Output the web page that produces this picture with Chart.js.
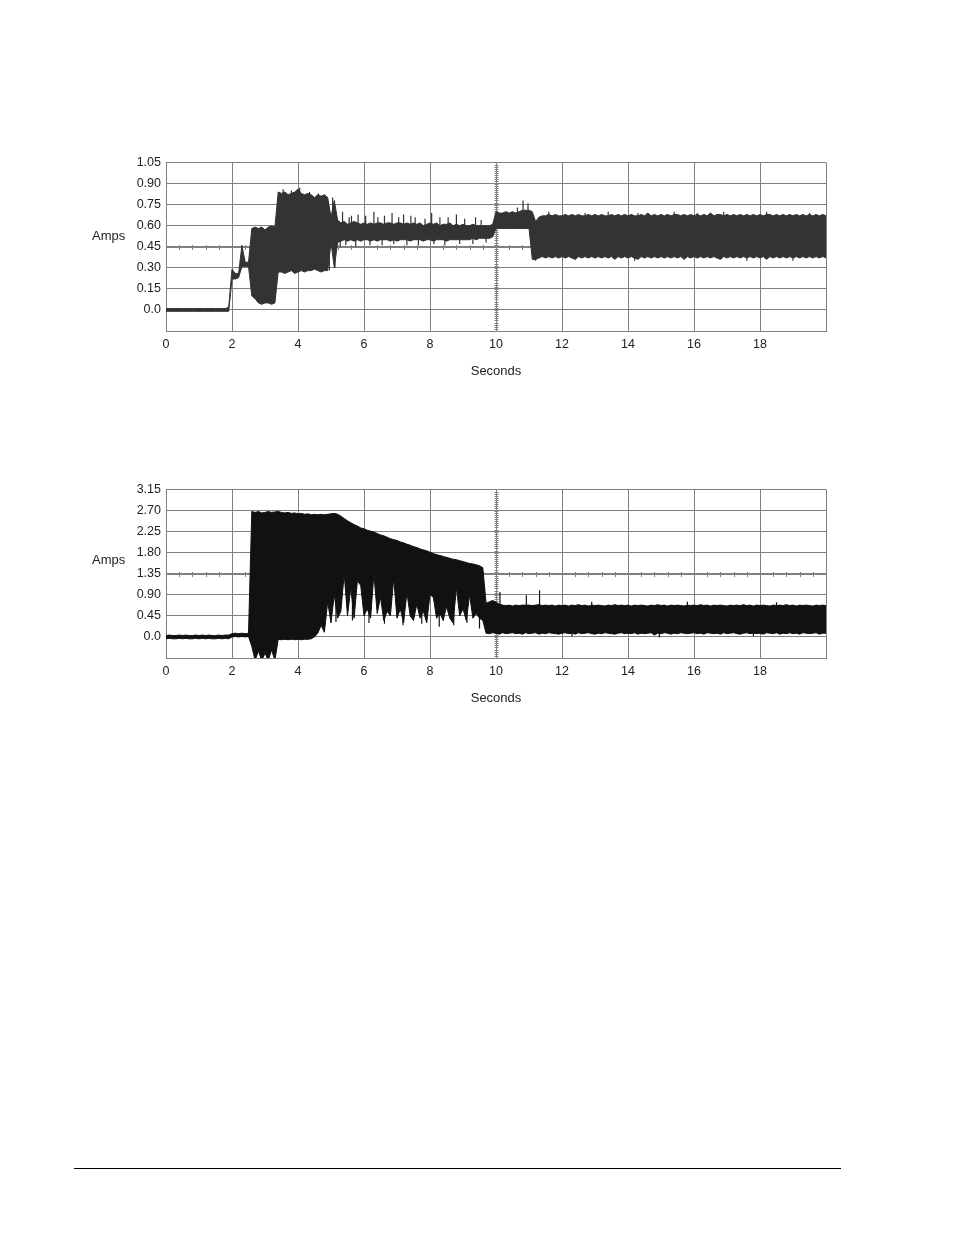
<!DOCTYPE html>
<html>
<head>
<meta charset="utf-8">
<script src="https://cdn.jsdelivr.net/npm/chart.js@4"></script>
<style>
  body{margin:0;background:#fff;font-family:"Liberation Sans",Arial,sans-serif;}
  .page{position:relative;width:954px;height:1235px;}
  canvas{position:absolute;left:0;}
  .amps{position:absolute;left:92px;font-size:13px;line-height:15px;color:#222;}
  .rule{position:absolute;left:74px;top:1168px;width:767px;border-top:1px solid #000;}
</style>
</head>
<body>
<div class="page">
  <canvas id="topChart" width="954" height="240" style="top:150px"></canvas>
  <canvas id="bottomChart" width="954" height="240" style="top:477px"></canvas>
  <div class="amps" style="top:228px">Amps</div>
  <div class="amps" style="top:552px">Amps</div>
  <div class="rule"></div>
</div>
<script>
// TICKS
const xTickValues=[0,2,4,6,8,10,12,14,16,18,20];
const xTickLabels=['0','2','4','6','8','10','12','14','16','18',''];
const topTickValues=[-0.15,0,0.15,0.30,0.45,0.60,0.75,0.90,1.05];
const topTickLabels=['','0.0','0.15','0.30','0.45','0.60','0.75','0.90','1.05'];
const bottomTickValues=[-0.45,0,0.45,0.90,1.35,1.80,2.25,2.70,3.15];
const bottomTickLabels=['','0.0','0.45','0.90','1.35','1.80','2.25','2.70','3.15'];

// TOP TRACE - envelope, one value per 0.1 s
const topHigh=[
  0.01,0.01,0.01,0.01,0.01,0.01,0.01,0.01,0.01,0.01,
  0.01,0.01,0.01,0.01,0.01,0.01,0.01,0.01,0.01,0.02,
  0.29,0.26,0.26,0.46,0.34,0.34,0.58,0.59,0.58,0.59,
  0.57,0.59,0.60,0.59,0.84,0.83,0.84,0.82,0.83,0.84,
  0.86,0.83,0.82,0.83,0.82,0.80,0.82,0.81,0.82,0.80,
  0.66,0.78,0.64,0.62,0.63,0.61,0.62,0.63,0.62,0.61,
  0.62,0.61,0.62,0.61,0.62,0.62,0.61,0.62,0.62,0.61,
  0.62,0.62,0.61,0.62,0.61,0.62,0.61,0.62,0.60,0.61,
  0.62,0.61,0.62,0.60,0.61,0.61,0.62,0.60,0.61,0.60,
  0.61,0.60,0.60,0.61,0.60,0.60,0.60,0.60,0.60,0.61,
  0.70,0.69,0.69,0.70,0.69,0.70,0.69,0.70,0.71,0.71,
  0.71,0.70,0.63,0.66,0.67,0.67,0.68,0.67,0.68,0.67,
  0.67,0.68,0.67,0.68,0.67,0.68,0.67,0.67,0.68,0.67,
  0.68,0.67,0.68,0.67,0.67,0.68,0.67,0.68,0.67,0.68,
  0.67,0.68,0.67,0.67,0.68,0.67,0.69,0.67,0.68,0.67,
  0.68,0.67,0.68,0.67,0.68,0.68,0.67,0.68,0.67,0.68,
  0.67,0.68,0.67,0.68,0.67,0.69,0.67,0.68,0.68,0.67,
  0.68,0.67,0.68,0.67,0.68,0.67,0.68,0.67,0.68,0.67,
  0.68,0.67,0.68,0.68,0.67,0.68,0.67,0.68,0.67,0.68,
  0.67,0.68,0.67,0.68,0.67,0.68,0.67,0.68,0.67,0.68,
  0.67
];
const topLow=[
  -0.01,-0.01,-0.01,-0.01,-0.01,-0.01,-0.01,-0.01,-0.01,-0.01,
  -0.01,-0.01,-0.01,-0.01,-0.01,-0.01,-0.01,-0.01,-0.01,-0.01,
  0.22,0.22,0.23,0.31,0.31,0.31,0.10,0.08,0.05,0.04,
  0.05,0.05,0.04,0.05,0.27,0.27,0.26,0.27,0.28,0.26,
  0.27,0.28,0.27,0.28,0.28,0.29,0.28,0.27,0.28,0.28,
  0.48,0.30,0.48,0.49,0.50,0.49,0.50,0.49,0.50,0.49,
  0.50,0.50,0.49,0.50,0.49,0.50,0.50,0.50,0.49,0.50,
  0.49,0.50,0.50,0.50,0.49,0.50,0.50,0.50,0.49,0.50,
  0.50,0.49,0.50,0.50,0.50,0.49,0.50,0.50,0.50,0.50,
  0.50,0.50,0.50,0.51,0.50,0.51,0.51,0.51,0.51,0.52,
  0.58,0.58,0.58,0.58,0.58,0.58,0.58,0.58,0.58,0.58,
  0.58,0.36,0.36,0.37,0.38,0.37,0.38,0.37,0.38,0.37,
  0.38,0.37,0.38,0.37,0.36,0.38,0.37,0.38,0.37,0.38,
  0.37,0.38,0.37,0.38,0.37,0.38,0.36,0.38,0.37,0.38,
  0.37,0.38,0.37,0.36,0.38,0.37,0.38,0.37,0.38,0.37,
  0.38,0.37,0.38,0.37,0.38,0.37,0.38,0.36,0.38,0.37,
  0.38,0.37,0.38,0.37,0.38,0.37,0.38,0.37,0.36,0.38,
  0.37,0.38,0.37,0.38,0.37,0.38,0.37,0.38,0.37,0.38,
  0.37,0.38,0.36,0.38,0.37,0.38,0.37,0.38,0.37,0.38,
  0.37,0.38,0.37,0.38,0.37,0.38,0.37,0.38,0.37,0.38,
  0.37
];
// single-sample spikes poking out of the top band
const topSpikeSeconds=[3.55,3.8,4.05,4.35,4.62,4.72,4.95,5.05,5.12,5.28,5.35,5.45,5.55,5.62,5.75,5.82,6.05,6.18,6.3,6.42,6.55,6.62,6.85,6.9,7.05,7.2,7.3,7.42,7.55,7.65,7.85,8.05,8.12,8.3,8.45,8.55,8.8,8.9,9.05,9.3,9.38,9.55,9.7,10.65,10.82,10.97,11.2,11.6,12.7,13.4,14.2,14.3,15.4,16.1,16.9,17.6,18.2,19.0,19.5];
const topSpikePeaks=[0.86,0.85,0.87,0.84,0.83,0.30,0.28,0.80,0.30,0.45,0.70,0.46,0.66,0.67,0.45,0.68,0.67,0.46,0.70,0.66,0.46,0.67,0.69,0.47,0.66,0.68,0.46,0.67,0.66,0.46,0.65,0.69,0.47,0.66,0.46,0.66,0.68,0.47,0.65,0.47,0.66,0.64,0.48,0.73,0.78,0.76,0.35,0.70,0.69,0.70,0.35,0.69,0.70,0.69,0.70,0.35,0.70,0.35,0.69];

// BOTTOM TRACE
const bottomHigh=[
  0.03,0.04,0.03,0.03,0.04,0.03,0.04,0.03,0.03,0.04,
  0.03,0.04,0.03,0.04,0.03,0.03,0.04,0.03,0.04,0.04,
  0.07,0.08,0.07,0.08,0.07,0.08,2.68,2.66,2.68,2.65,
  2.66,2.68,2.66,2.67,2.68,2.66,2.65,2.66,2.64,2.65,
  2.63,2.64,2.62,2.63,2.61,2.62,2.61,2.62,2.61,2.62,
  2.63,2.64,2.62,2.58,2.53,2.48,2.44,2.40,2.37,2.33,
  2.31,2.28,2.26,2.24,2.21,2.18,2.16,2.13,2.10,2.08,
  2.06,2.03,2.01,1.98,1.96,1.93,1.91,1.88,1.86,1.84,
  1.81,1.78,1.76,1.74,1.72,1.70,1.68,1.66,1.65,1.63,
  1.61,1.59,1.57,1.56,1.54,1.52,1.48,0.72,0.75,0.78,
  0.74,0.70,0.68,0.67,0.68,0.66,0.68,0.67,0.68,0.68,
  0.68,0.67,0.68,0.69,0.67,0.68,0.67,0.68,0.66,0.68,
  0.67,0.68,0.66,0.68,0.67,0.69,0.67,0.68,0.66,0.68,
  0.67,0.68,0.67,0.66,0.68,0.67,0.69,0.67,0.68,0.67,
  0.68,0.66,0.68,0.67,0.68,0.67,0.66,0.68,0.67,0.69,
  0.67,0.68,0.66,0.68,0.67,0.68,0.67,0.66,0.68,0.67,
  0.68,0.67,0.69,0.67,0.68,0.66,0.68,0.67,0.68,0.67,
  0.66,0.68,0.67,0.68,0.67,0.69,0.67,0.68,0.66,0.68,
  0.67,0.68,0.67,0.66,0.68,0.67,0.68,0.67,0.69,0.67,
  0.68,0.66,0.68,0.67,0.68,0.67,0.66,0.68,0.67,0.68,
  0.67
];
const bottomLow=[
  -0.04,-0.03,-0.04,-0.04,-0.03,-0.04,-0.03,-0.04,-0.04,-0.03,
  -0.04,-0.03,-0.04,-0.03,-0.04,-0.04,-0.03,-0.04,-0.03,-0.04,
  0.00,0.01,0.00,0.01,0.00,0.01,-0.20,-0.50,-0.30,-0.50,
  -0.35,-0.50,-0.28,-0.50,-0.05,-0.06,-0.05,-0.06,-0.05,-0.06,
  -0.05,-0.06,-0.05,-0.05,-0.04,0.00,0.08,0.25,0.10,0.75,
  0.30,0.90,0.40,0.55,1.35,0.45,1.05,0.40,1.20,1.10,
  0.45,0.60,0.40,1.35,0.50,0.85,0.35,0.55,0.45,1.25,
  0.40,0.60,0.30,0.95,0.45,0.35,0.70,0.40,0.55,0.30,
  0.90,0.85,0.40,0.50,0.35,0.65,0.40,0.30,1.05,0.45,
  0.60,0.35,0.90,0.40,0.50,0.40,0.35,0.08,0.07,0.09,
  0.08,0.06,0.09,0.07,0.08,0.09,0.07,0.08,0.06,0.09,
  0.07,0.08,0.09,0.06,0.08,0.07,0.09,0.08,0.07,0.06,
  0.08,0.09,0.07,0.08,0.06,0.09,0.07,0.08,0.09,0.07,
  0.06,0.08,0.07,0.09,0.08,0.07,0.06,0.08,0.09,0.07,
  0.08,0.07,0.09,0.06,0.08,0.07,0.08,0.09,0.04,0.08,
  0.07,0.09,0.08,0.06,0.08,0.07,0.09,0.08,0.07,0.08,
  0.09,0.07,0.08,0.06,0.09,0.08,0.07,0.08,0.06,0.09,
  0.07,0.08,0.09,0.07,0.06,0.08,0.09,0.07,0.08,0.07,
  0.08,0.06,0.09,0.08,0.07,0.09,0.06,0.08,0.07,0.09,
  0.07,0.08,0.06,0.09,0.08,0.07,0.08,0.09,0.06,0.08,
  0.08
];
const bottomSpikeSeconds=[5.15,5.65,6.15,6.62,7.18,7.75,8.28,8.72,9.12,9.5,10.12,10.92,11.32,12.3,12.9,14.95,15.8,17.8,18.5];
const bottomSpikePeaks=[0.32,0.35,0.30,0.28,0.25,0.28,0.22,0.25,0.30,0.18,0.96,0.89,1.00,0.01,0.75,-0.01,0.75,0.02,0.74];

// the recorder samples every 0.1 s
const sampleSeconds=topHigh.map((_,i)=>i/10);
const toPoints=vals=>vals.map((v,i)=>({x:sampleSeconds[i],y:v}));
// each spike rises from the middle of the band at its sample
function spikePoints(times,peaks,high,low){
  const pts=[];
  times.forEach((t,k)=>{
    const i=Math.round(t*10);
    pts.push({x:t,y:(high[i]+low[i])/2},{x:t,y:peaks[k]},{x:t,y:null});
  });
  return pts;
}

Chart.defaults.font.family='"Liberation Sans", Arial, sans-serif';
Chart.defaults.color='#222';

// axis cross with minor ticks (x axis at mid value, y axis at 10 s)
const crossAxes={
  id:'crossAxes',
  beforeDatasetsDraw(chart,args,opts){
    const {ctx,chartArea:a,scales:{x,y}}=chart;
    const px=Math.round(x.getPixelForValue(opts.atX))+0.5;
    const py=Math.round(y.getPixelForValue(opts.atY))+0.5;
    ctx.save();
    ctx.strokeStyle=opts.color;ctx.lineWidth=1;
    ctx.beginPath();
    ctx.moveTo(a.left,py);ctx.lineTo(a.right,py);
    ctx.moveTo(px,a.top);ctx.lineTo(px,a.bottom);
    for(let i=1;x.min+i*opts.xMinor<x.max-1e-9;i++){
      const p=Math.round(x.getPixelForValue(x.min+i*opts.xMinor))+0.5;
      ctx.moveTo(p,py-2.5);ctx.lineTo(p,py+2.5);
    }
    for(let i=1;y.min+i*opts.yMinor<y.max-1e-9;i++){
      const p=Math.round(y.getPixelForValue(y.min+i*opts.yMinor))+0.5;
      ctx.moveTo(px-2,p);ctx.lineTo(px+2,p);
    }
    ctx.stroke();ctx.restore();
  }
};

function makeChart(id,high,low,spT,spV,yTicks,yLabels,crossY,yMinor,color){
  const grid={color:'#808080',lineWidth:1,drawTicks:false};
  return new Chart(document.getElementById(id),{
    type:'line',
    data:{datasets:[
      {data:toPoints(low),borderColor:color,borderWidth:1,pointRadius:0,fill:false},
      {data:toPoints(high),borderColor:color,borderWidth:1,pointRadius:0,fill:'-1',backgroundColor:color},
      {data:spikePoints(spT,spV,high,low),borderColor:color,borderWidth:1.2,pointRadius:0,fill:false,spanGaps:false}
    ]},
    options:{
      responsive:false,animation:false,devicePixelRatio:1,
      layout:{padding:{left:0,right:128,top:11,bottom:0}},
      plugins:{legend:{display:false},tooltip:{enabled:false},
        crossAxes:{atX:10,atY:crossY,xMinor:0.4,yMinor:yMinor,color:'#808080'}},
      scales:{
        x:{type:'linear',min:0,max:20,grid:grid,border:{color:'#808080'},
          afterBuildTicks:s=>{s.ticks=xTickValues.map(value=>({value}))},
          afterFit:s=>{s.height=59},
          ticks:{padding:6,font:{size:12.5},color:'#222',maxRotation:0,autoSkip:false,callback:(v,i)=>xTickLabels[i]},
          title:{display:true,text:'Seconds',font:{size:13},color:'#222',padding:{top:4,bottom:11}}},
        y:{min:yTicks[0],max:yTicks[yTicks.length-1],grid:grid,border:{color:'#808080'},
          afterBuildTicks:s=>{s.ticks=yTicks.map(value=>({value}))},
          afterFit:s=>{s.width=166},
          ticks:{padding:5,font:{size:12.5},color:'#222',autoSkip:false,callback:(v,i)=>yLabels[i]}}
      }
    },
    plugins:[crossAxes]
  });
}

makeChart('topChart',topHigh,topLow,topSpikeSeconds,topSpikePeaks,topTickValues,topTickLabels,0.45,0.015,'#333333');
makeChart('bottomChart',bottomHigh,bottomLow,bottomSpikeSeconds,bottomSpikePeaks,bottomTickValues,bottomTickLabels,1.35,0.045,'#111111');
</script>
</body>
</html>
